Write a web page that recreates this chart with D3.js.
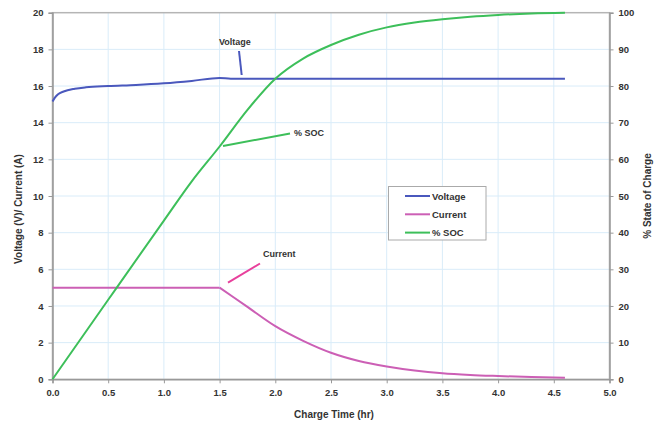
<!DOCTYPE html>
<html>
<head>
<meta charset="utf-8">
<script src="https://cdn.jsdelivr.net/npm/d3@7"></script>
<style>
  body { margin: 0; background: #fff; }
  svg text { font-family: "Liberation Sans", Arial, sans-serif; font-weight: bold; fill: #333; }
</style>
</head>
<body>
<svg id="chart" width="668" height="425"></svg>
<script>
// ---- Data ----
const voltageTime = [0, 0.02, 0.05, 0.1, 0.2, 0.3, 0.5, 0.75, 1.0, 1.25, 1.5, 1.6, 4.6];
const voltageValues = [15.15, 15.35, 15.55, 15.7, 15.85, 15.93, 16.0, 16.06, 16.15, 16.28, 16.44, 16.4, 16.4];

const currentTime = [0, 1.5, 1.75, 2.0, 2.25, 2.5, 2.75, 3.0, 3.25, 3.5, 3.75, 4.0, 4.3, 4.6];
const currentValues = [5, 5, 3.95, 2.9, 2.1, 1.45, 1.0, 0.7, 0.48, 0.33, 0.24, 0.18, 0.12, 0.08];

const socTime = [0, 0.5, 1.0, 1.25, 1.5, 1.75, 2.0, 2.25, 2.5, 2.75, 3.0, 3.25, 3.5, 3.75, 4.0, 4.3, 4.6];
const socValues = [0, 21.7, 43.3, 54, 63.5, 73.5, 82, 87.5, 91.2, 94, 96, 97.3, 98.2, 98.9, 99.4, 99.8, 100];

const xTicks = [0, 0.5, 1.0, 1.5, 2.0, 2.5, 3.0, 3.5, 4.0, 4.5, 5.0];
const leftTicks = [0, 2, 4, 6, 8, 10, 12, 14, 16, 18, 20];
const rightTicks = [0, 10, 20, 30, 40, 50, 60, 70, 80, 90, 100];
const seriesNames = ["Voltage", "Current", "% SOC"];
const seriesColors = ["#4a58bd", "#cc5fb5", "#3dbf5a"];

// ---- Layout ----
const svg = d3.select("#chart");
const L = 52.5, R = 609.5, T = 12.7, B = 379.3;
const x = d3.scaleLinear().domain([0, 5]).range([L, R]);
const yL = d3.scaleLinear().domain([0, 20]).range([B, T]);
const yR = d3.scaleLinear().domain([0, 100]).range([B, T]);

// grid
svg.append("g").selectAll("line.v").data(xTicks.slice(1, -1)).join("line")
  .attr("x1", d => x(d)).attr("x2", d => x(d)).attr("y1", T).attr("y2", B)
  .attr("stroke", "#d9ecf9").attr("stroke-width", 1);
svg.append("g").selectAll("line.h").data(leftTicks.slice(1, -1)).join("line")
  .attr("x1", L).attr("x2", R).attr("y1", d => yL(d)).attr("y2", d => yL(d))
  .attr("stroke", "#d9ecf9").attr("stroke-width", 1);

// frame
svg.append("rect").attr("x", L).attr("y", T).attr("width", R - L).attr("height", B - T)
  .attr("fill", "none").attr("stroke", "#b5b5b5").attr("stroke-width", 1.5);

// axes
const fmt1 = d3.format(".1f");
const gx = svg.append("g").attr("transform", `translate(0,${B})`)
  .call(d3.axisBottom(x).tickValues(xTicks).tickFormat(fmt1).tickSize(4).tickPadding(6));
const gl = svg.append("g").attr("transform", `translate(${L},0)`)
  .call(d3.axisLeft(yL).tickValues(leftTicks).tickSize(4).tickPadding(5));
const gr = svg.append("g").attr("transform", `translate(${R},0)`)
  .call(d3.axisRight(yR).tickValues(rightTicks).tickSize(4).tickPadding(5));
[gx, gl, gr].forEach(g => {
  g.select(".domain").attr("stroke", "#999").attr("stroke-width", 1.5);
  g.selectAll(".tick line").attr("stroke", "#999");
  g.selectAll(".tick text").attr("font-size", 9.5).attr("font-family", "Liberation Sans, Arial, sans-serif")
    .attr("font-weight", "bold").attr("fill", "#333");
});

// axis titles
svg.append("text").attr("x", 334).attr("y", 418).attr("text-anchor", "middle")
  .attr("font-size", 10).text("Charge Time (hr)");
svg.append("text").attr("transform", "translate(22,209) rotate(-90)").attr("text-anchor", "middle")
  .attr("font-size", 10).text("Voltage (V)/ Current (A)");
svg.append("text").attr("transform", "translate(651,196) rotate(-90)").attr("text-anchor", "middle")
  .attr("font-size", 10).text("% State of Charge");

// lines
const mk = (tArr, vArr) => tArr.map((t, i) => [t, vArr[i]]);
const lineL = d3.line().x(d => x(d[0])).y(d => yL(d[1])).curve(d3.curveMonotoneX);
const lineR = d3.line().x(d => x(d[0])).y(d => yR(d[1])).curve(d3.curveMonotoneX);

// current: constant-current phase and taper phase drawn as separate pieces (sharp corner at 1.5 h)
const cur = mk(currentTime, currentValues);
const knee = currentTime.indexOf(1.5);
[cur.slice(0, knee + 1), cur.slice(knee)].forEach(seg => {
  svg.append("path").datum(seg).attr("d", lineL)
    .attr("fill", "none").attr("stroke", seriesColors[1]).attr("stroke-width", 2)
    .attr("stroke-linejoin", "round");
});
svg.append("path").datum(mk(voltageTime, voltageValues)).attr("d", lineL)
  .attr("fill", "none").attr("stroke", seriesColors[0]).attr("stroke-width", 2);
svg.append("path").datum(mk(socTime, socValues)).attr("d", lineR)
  .attr("fill", "none").attr("stroke", seriesColors[2]).attr("stroke-width", 2);

// annotations
const ann = [
  { text: seriesNames[0], tx: 219, ty: 45, x1: 239, y1: 51, x2: 241.7, y2: 75, color: seriesColors[0] },
  { text: seriesNames[2], tx: 294, ty: 136, x1: 223, y1: 146, x2: 290, y2: 133.5, color: seriesColors[2] },
  { text: seriesNames[1], tx: 263, ty: 257, x1: 228, y1: 282.7, x2: 260, y2: 263.5, color: "#e8409c" }
];
ann.forEach(a => {
  svg.append("line").attr("x1", a.x1).attr("y1", a.y1).attr("x2", a.x2).attr("y2", a.y2)
    .attr("stroke", a.color).attr("stroke-width", 2);
  svg.append("text").attr("x", a.tx).attr("y", a.ty).attr("font-size", 9).text(a.text);
});

// legend
const lg = svg.append("g");
lg.append("rect").attr("x", 388.5).attr("y", 186.5).attr("width", 97.5).attr("height", 53.5)
  .attr("fill", "#fff").attr("stroke", "#aaa").attr("stroke-width", 1);
seriesNames.forEach((n, i) => {
  const yy = 196 + i * 18.3;
  lg.append("line").attr("x1", 405).attr("x2", 430).attr("y1", yy).attr("y2", yy)
    .attr("stroke", seriesColors[i]).attr("stroke-width", 2);
  lg.append("text").attr("x", 432).attr("y", yy + 3.5).attr("font-size", 9.5).text(n);
});
</script>
</body>
</html>
